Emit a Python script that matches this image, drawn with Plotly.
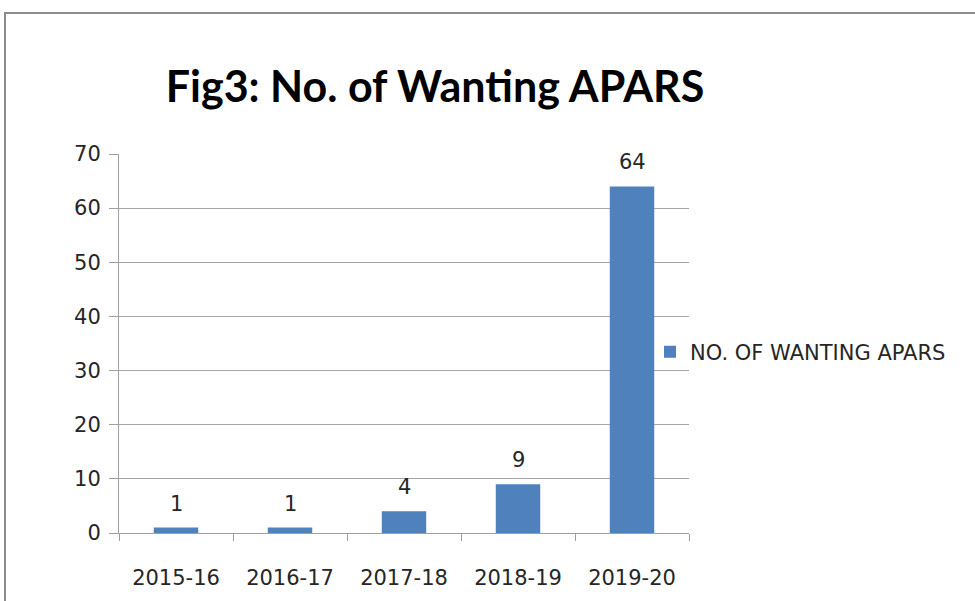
import plotly.graph_objects as go

categories = ["2015-16", "2016-17", "2017-18", "2018-19", "2019-20"]
values = [1, 1, 4, 9, 64]
series_name = "NO. OF WANTING APARS"
title_text = "Fig3: No. of Wanting APARS"

W, H = 975, 601
L, R, T, B = 119, 286, 154, 68
pw = W - L - R
ph = H - T - B

FONT = "DejaVu Sans"
TXT = "#262626"

fig = go.Figure()
fig.add_trace(go.Bar(
    x=categories, y=values, name=series_name,
    marker=dict(color="#4F81BD", line=dict(width=0)),
    cliponaxis=False,
))

# data labels
for c, v in zip(categories, values):
    fig.add_annotation(x=c, y=v, text=str(v), showarrow=False,
                       yanchor="bottom", yshift=10,
                       font=dict(family=FONT, size=21, color=TXT))

# outer frame (only left and top edges visible in the window)
fig.add_shape(type="rect", xref="paper", yref="paper",
              x0=(5 - L) / pw, x1=(W + 20 - L) / pw,
              y0=-(B + 20) / ph, y1=(H - 13 - B) / ph,
              line=dict(color="#8C8C8C", width=2), fillcolor="rgba(0,0,0,0)", layer="below")

fig.update_layout(
    width=W, height=H,
    margin=dict(l=L, r=R, t=T, b=B, pad=0),
    paper_bgcolor="white", plot_bgcolor="white",
    bargap=0.61,
    showlegend=True,
    legend=dict(x=(650 - L) / pw, y=(H - 352 - B) / ph, xanchor="left", yanchor="middle",
                font=dict(family=FONT, size=21, color=TXT),
                bgcolor="rgba(0,0,0,0)"),
    title=dict(text="<b>" + title_text + "</b>", x=435 / W, xanchor="center",
               y=1 - 87 / H, yanchor="middle",
               font=dict(family="Lato", size=43, color="#000000")),
    font=dict(family=FONT, size=21, color=TXT),
    xaxis=dict(showgrid=False, showline=True, linecolor="#A0A0A0", linewidth=1,
               ticks="outside", ticklen=7, tickcolor="#A0A0A0", tickson="boundaries",
               ticklabelstandoff=26,
               tickfont=dict(family=FONT, size=21, color=TXT)),
    yaxis=dict(range=[0, 70], dtick=10, showgrid=True, gridcolor="#A6A6A6", gridwidth=1,
               showline=True, linecolor="#A0A0A0", linewidth=1,
               ticks="outside", ticklen=9, tickcolor="#A0A0A0",
               ticklabelstandoff=4, zeroline=False,
               tickfont=dict(family=FONT, size=21, color=TXT)),
)

fig.write_html("out.html", config={"displayModeBar": False},
               post_script="document.body.style.margin='0';document.body.style.overflow='hidden';")
